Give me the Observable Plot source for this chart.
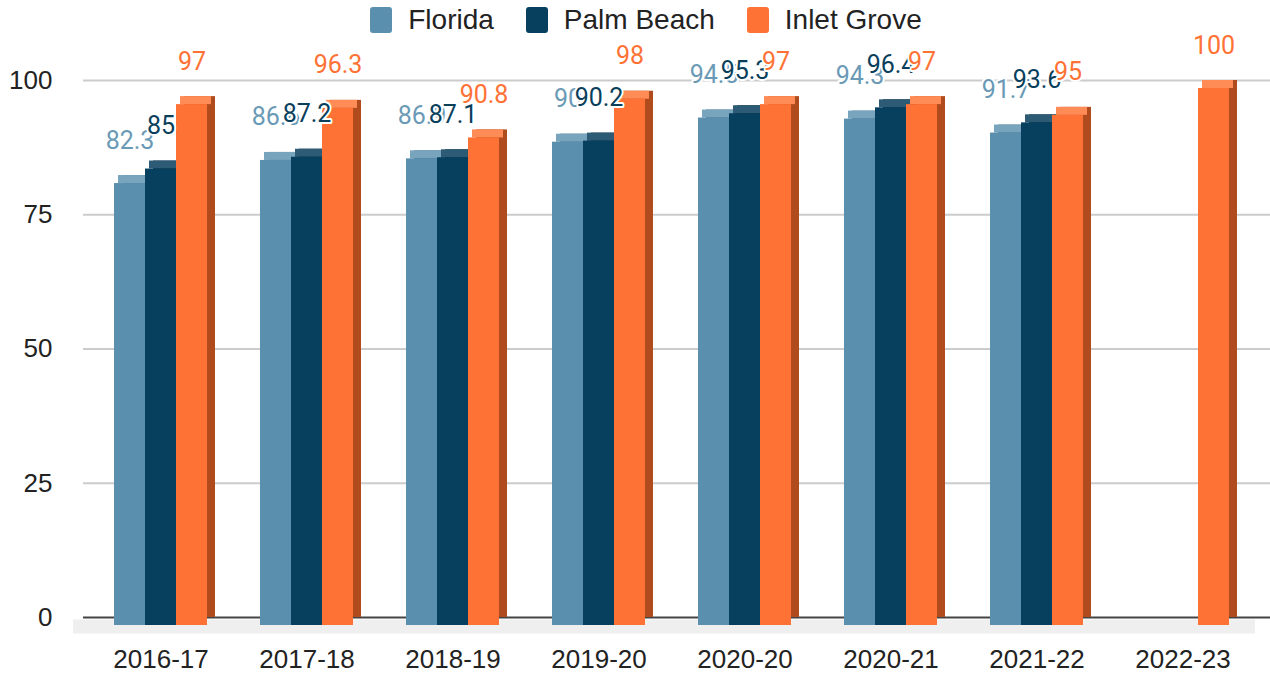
<!DOCTYPE html>
<html><head><meta charset="utf-8">
<script src="https://cdn.jsdelivr.net/npm/d3@7"></script>
<script src="https://cdn.jsdelivr.net/npm/@observablehq/plot@0.6"></script>
<style>
body{margin:0;background:#fff;font-family:"Liberation Sans",Arial,sans-serif;}
#legend{height:40px;display:flex;justify-content:center;align-items:center;font-size:28px;color:#222;padding-left:22px;box-sizing:border-box;}
.item{display:flex;align-items:center;margin:0 16px;}
.sw{width:22px;height:26px;border-radius:3px;margin-right:16px;}
</style></head>
<body>
<div id="legend"></div>
<div id="chart"></div>
<script>
const years = ["2016-17","2017-18","2018-19","2019-20","2020-20","2020-21","2021-22","2022-23"];
const series = ["Florida","Palm Beach","Inlet Grove"];
const florida    = [82.3, 86.6, 86.9, 90,   94.5, 94.3, 91.7, null];
const palmBeach  = [85,   87.2, 87.1, 90.2, 95.3, 96.4, 93.6, null];
const inletGrove = [97,   96.3, 90.8, 98,   97,   97,   95,   100];
const yTicks = [0, 25, 50, 75, 100];

const frontColors = ["#5a8fae", "#06405e", "#ff7235"];
const sideColors  = ["#3f6a83", "#0b2c40", "#b04b1e"];
const topColors   = ["#78a4bd", "#2d5a74", "#ff8b57"];
const labelColors = ["#6a9ab6", "#0a3f5c", "#ff7235"];

const seriesValues = [florida, palmBeach, inletGrove];
const rows = series.map((s, i) =>
  years.map((yr, j) => ({year: yr, series: s, value: seriesValues[i][j]}))
       .filter(d => d.value != null));

// legend
const legend = document.getElementById("legend");
series.forEach((s, i) => {
  const it = document.createElement("div"); it.className = "item";
  const sw = document.createElement("div"); sw.className = "sw"; sw.style.background = frontColors[i];
  const tx = document.createElement("span"); tx.textContent = s;
  it.appendChild(sw); it.appendChild(tx); legend.appendChild(it);
});

const bw = 31;
const marks = [
  Plot.ruleY([0], {stroke: "#efefef", strokeWidth: 14, dy: 9, insetLeft: -14, insetRight: 0}),
  Plot.ruleY(yTicks.filter(t => t > 0), {stroke: "#cccccc", strokeWidth: 2, insetLeft: -4, insetRight: -15}),
  Plot.ruleY([0], {stroke: "#444444", strokeWidth: 2, insetLeft: -4, insetRight: -15})
];
series.forEach((s, i) => {
  const off = (i - 1) * bw;
  marks.push(Plot.barY(rows[i], {x: "year", y: "value", dx: off + 8, fill: sideColors[i]}));
  marks.push(Plot.barY(rows[i], {x: "year", y1: "value", y2: "value", insetBottom: -8, dx: off + 4, fill: topColors[i]}));
  marks.push(Plot.barY(rows[i], {x: "year", y: "value", dx: off, dy: 8, fill: frontColors[i]}));
});
series.forEach((s, i) => {
  marks.push(Plot.text(rows[i], {
    x: "year", y: "value", text: d => String(d.value),
    dx: (i - 1) * bw, dy: -35, fill: labelColors[i],
    stroke: "white", strokeWidth: 4, paintOrder: "stroke",
    fontSize: 25, fontFamily: "Roboto", lineAnchor: "middle"
  }));
});
marks.push(Plot.axisX({tickSize: 0, tickPadding: 32, fontSize: 26, fill: "#222"}));
marks.push(Plot.axisY({ticks: yTicks, tickSize: 0, tickPadding: 35, fontSize: 26, fill: "#222", label: null}));

const chart = Plot.plot({
  width: 1270, height: 635,
  marginTop: 40, marginBottom: 58, marginLeft: 87, marginRight: 15,
  x: {domain: years, paddingInner: 0.788, paddingOuter: 0.394, label: null},
  y: {domain: [0, 100], label: null},
  style: {fontFamily: "Liberation Sans, Arial, sans-serif", fontSize: "26px", color: "#222", overflow: "visible", background: "white"},
  marks
});
document.getElementById("chart").appendChild(chart);
</script>
</body></html>
